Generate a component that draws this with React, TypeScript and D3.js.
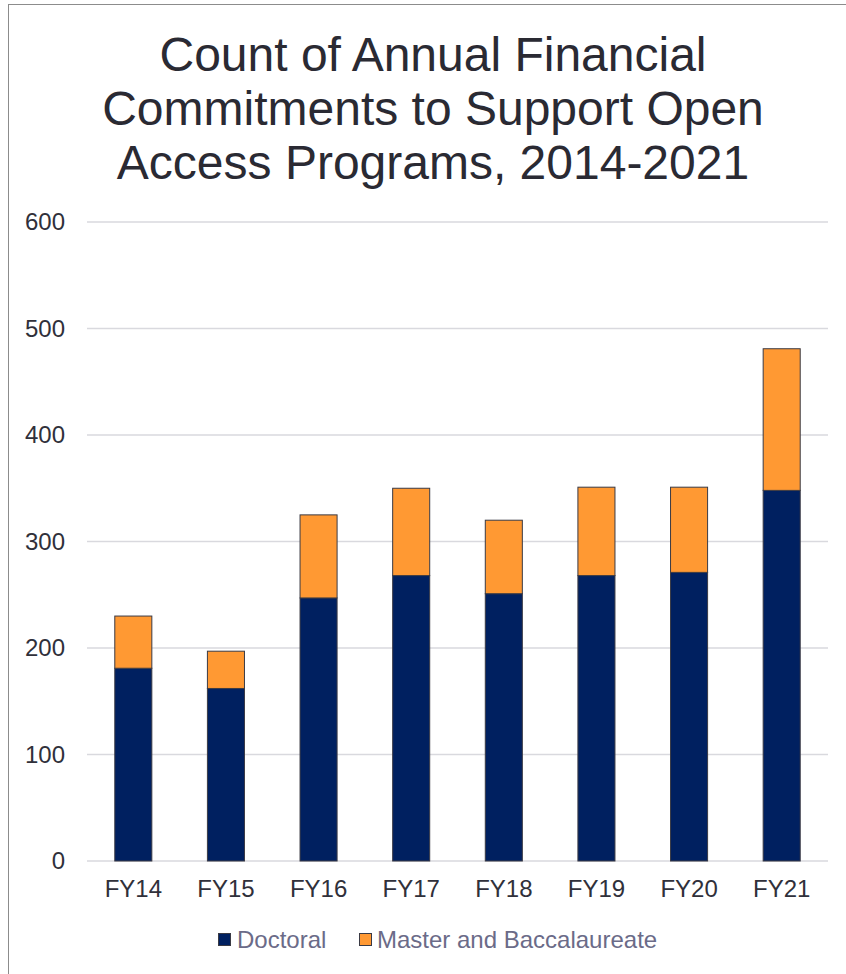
import * as d3 from 'd3'

const WIDTH = 846
const HEIGHT = 974
const MARGIN = { top: 222, right: 18, bottom: 113, left: 87 }

const years = ['FY14', 'FY15', 'FY16', 'FY17', 'FY18', 'FY19', 'FY20', 'FY21']
const doctoral = [181, 162, 247, 268, 251, 268, 271, 348]
const masterBacc = [49, 35, 78, 82, 69, 83, 80, 133]
const yTicks = [0, 100, 200, 300, 400, 500, 600]
const seriesNames = ['Doctoral', 'Master and Baccalaureate']
const colors = ['#002060', '#ff9933']
const titleLines = [
  'Count of Annual Financial',
  'Commitments to Support Open',
  'Access Programs, 2014-2021',
]

const FONT = '"Liberation Sans", Arial, sans-serif'

export default function App() {
  const boundsWidth = WIDTH - MARGIN.left - MARGIN.right
  const boundsHeight = HEIGHT - MARGIN.top - MARGIN.bottom

  // Scales
  const xScale = d3
    .scaleBand()
    .domain(years)
    .range([0, boundsWidth])
    .paddingInner(0.6)
    .paddingOuter(0.3)
  const yScale = d3.scaleLinear().domain([0, 600]).range([boundsHeight, 0])

  const rows = years.map((y, i) => ({ year: y, Doctoral: doctoral[i], Master: masterBacc[i] }))
  const stacked = d3.stack<any>().keys(['Doctoral', 'Master'])(rows)

  return (
    <div style={{ position: 'absolute', left: 0, top: 0 }}>
      <svg width={WIDTH} height={HEIGHT} style={{ display: 'block', background: '#fff' }}>
        <rect x={8.5} y={4.5} width={WIDTH + 10} height={HEIGHT + 10} fill="#fff" stroke="#8c8c8c" strokeWidth={1} />

        {/* Title */}
        <text textAnchor="middle" fontFamily={FONT} fontSize={48} fill="#2a2a33">
          {titleLines.map((t, i) => (
            <tspan key={i} x={433} y={71 + i * 54}>
              {t}
            </tspan>
          ))}
        </text>

        <g transform={`translate(${MARGIN.left},${MARGIN.top})`}>
          {/* Gridlines */}
          {yTicks.map((t) => (
            <line
              key={t}
              x1={0}
              x2={boundsWidth}
              y1={yScale(t)}
              y2={yScale(t)}
              stroke="#d9d9de"
              strokeWidth={1.5}
            />
          ))}
          {yTicks.map((t) => (
            <text
              key={'l' + t}
              x={-22}
              y={yScale(t)}
              dy="0.35em"
              textAnchor="end"
              fontFamily={FONT}
              fontSize={24}
              fill="#30303a"
            >
              {t}
            </text>
          ))}

          {/* Bars */}
          {stacked.map((s, si) =>
            s.map((d, i) => (
              <rect
                key={si + '-' + i}
                x={xScale(years[i])}
                y={yScale(d[1])}
                width={xScale.bandwidth()}
                height={yScale(d[0]) - yScale(d[1])}
                fill={colors[si]}
                stroke="#3a3a44"
                strokeWidth={1}
              />
            ))
          )}

          {/* X labels */}
          {years.map((y) => (
            <text
              key={y}
              x={(xScale(y) ?? 0) + xScale.bandwidth() / 2}
              y={boundsHeight + 36}
              textAnchor="middle"
              fontFamily={FONT}
              fontSize={24}
              fill="#30303a"
            >
              {y}
            </text>
          ))}
        </g>

        {/* Legend */}
        <g fontFamily={FONT} fontSize={24} fill="#6b6b88">
          <rect x={218.5} y={933.5} width={12} height={12} fill={colors[0]} stroke="#3a3a44" strokeWidth={1} />
          <text x={237} y={948}>
            {seriesNames[0]}
          </text>
          <rect x={359.5} y={933.5} width={12} height={12} fill={colors[1]} stroke="#3a3a44" strokeWidth={1} />
          <text x={377} y={948}>
            {seriesNames[1]}
          </text>
        </g>
      </svg>
    </div>
  )
}
